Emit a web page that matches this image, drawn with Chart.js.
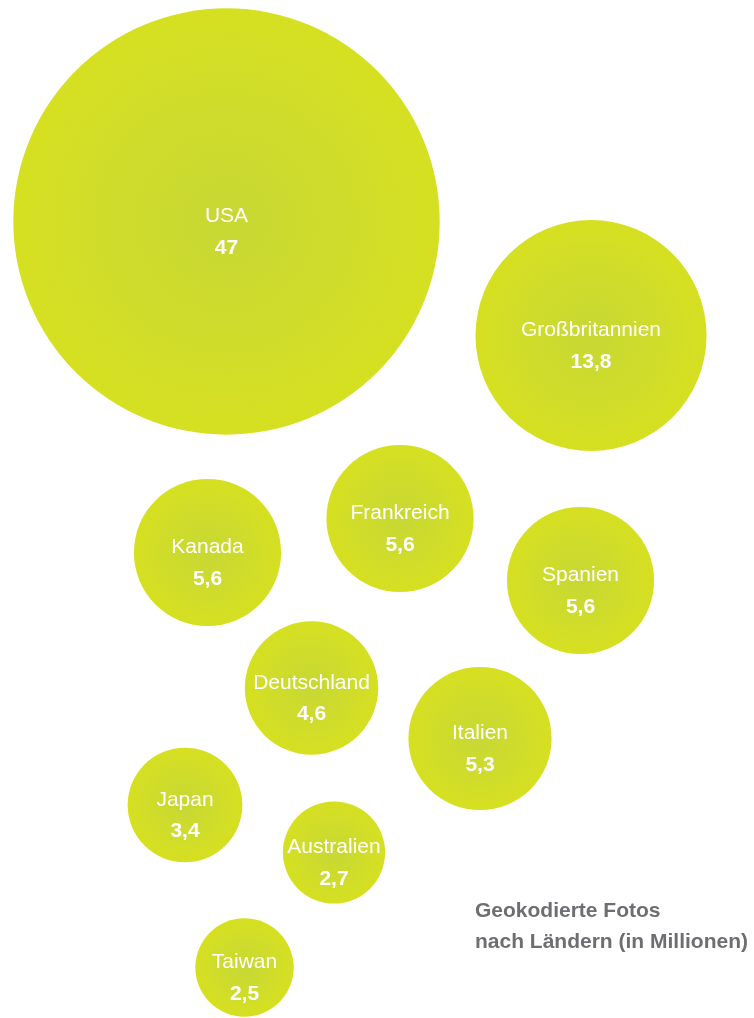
<!DOCTYPE html>
<html>
<head>
<meta charset="utf-8">
<script src="https://cdn.jsdelivr.net/npm/chart.js@4/dist/chart.umd.min.js"></script>
<style>
  html, body { margin: 0; padding: 0; background: #fff; }
  #wrap { position: relative; width: 754px; height: 1018px; overflow: hidden; }
  #caption {
    position: absolute; left: 475px; top: 894px;
    font: bold 21px "Liberation Sans", Arial, sans-serif;
    line-height: 31px; color: #6d6e71; white-space: nowrap;
  }
</style>
</head>
<body>
<div id="wrap">
  <canvas id="bubbles" width="754" height="1018"></canvas>
  <div id="caption">Geokodierte Fotos<br>nach Ländern (in Millionen)</div>
</div>
<script>
// Länder + geokodierte Fotos (Mio.)
const countries = ['USA', 'Großbritannien', 'Kanada', 'Frankreich', 'Spanien', 'Deutschland', 'Italien', 'Japan', 'Australien', 'Taiwan'];
const photos = [47, 13.8, 5.6, 5.6, 5.6, 4.6, 5.3, 3.4, 2.7, 2.5];
// Lage der Blasen im Layout (Skala 0..754 / 0..1018)
const bubbleX = [226.5, 591, 207.5, 400, 580.5, 311.5, 480, 185, 334, 244.5];
const bubbleY = [221.5, 335.5, 552.5, 518.5, 580.5, 688, 738.5, 805, 852.5, 967.5];

const RADIUS_PER_SQRT = 31.1; // Fläche ~ Wert

const points = countries.map((c, i) => ({
  x: bubbleX[i],
  y: bubbleY[i],
  r: RADIUS_PER_SQRT * Math.sqrt(photos[i])
}));

// radialer Verlauf pro Blase, erst wenn die Positionen feststehen
const gradientPlugin = {
  id: 'bubbleGradient',
  beforeDatasetsDraw(chart) {
    const c = chart.ctx;
    chart.getDatasetMeta(0).data.forEach(el => {
      const r = el.options.radius;
      const g = c.createRadialGradient(el.x, el.y, 0, el.x, el.y, r);
      g.addColorStop(0, '#c8d834');
      g.addColorStop(0.55, '#cfdc2b');
      g.addColorStop(1, '#d6e021');
      el.options.backgroundColor = g;
    });
  }
};

const labelPlugin = {
  id: 'bubbleLabels',
  afterDatasetsDraw(chart) {
    const c = chart.ctx;
    const meta = chart.getDatasetMeta(0);
    c.save();
    c.fillStyle = '#ffffff';
    c.textAlign = 'center';
    c.textBaseline = 'alphabetic';
    meta.data.forEach((el, i) => {
      c.font = '21px "Liberation Sans", Arial, sans-serif';
      c.fillText(countries[i], el.x, el.y + 0.5);
      c.font = 'bold 21px "Liberation Sans", Arial, sans-serif';
      c.fillText(String(photos[i]).replace('.', ','), el.x, el.y + 32);
    });
    c.restore();
  }
};

new Chart(document.getElementById('bubbles'), {
  type: 'bubble',
  data: {
    labels: countries,
    datasets: [{
      data: points,
      backgroundColor: '#d3df25',
      borderWidth: 0,
      hoverRadius: 0,
      clip: false
    }]
  },
  options: {
    responsive: false,
    animation: false,
    events: [],
    layout: { padding: 0, autoPadding: false },
    scales: {
      x: { type: 'linear', min: 0, max: 754, display: false },
      y: { type: 'linear', min: 0, max: 1018, reverse: true, display: false }
    },
    plugins: {
      legend: { display: false },
      tooltip: { enabled: false }
    }
  },
  plugins: [gradientPlugin, labelPlugin]
});
</script>
</body>
</html>
